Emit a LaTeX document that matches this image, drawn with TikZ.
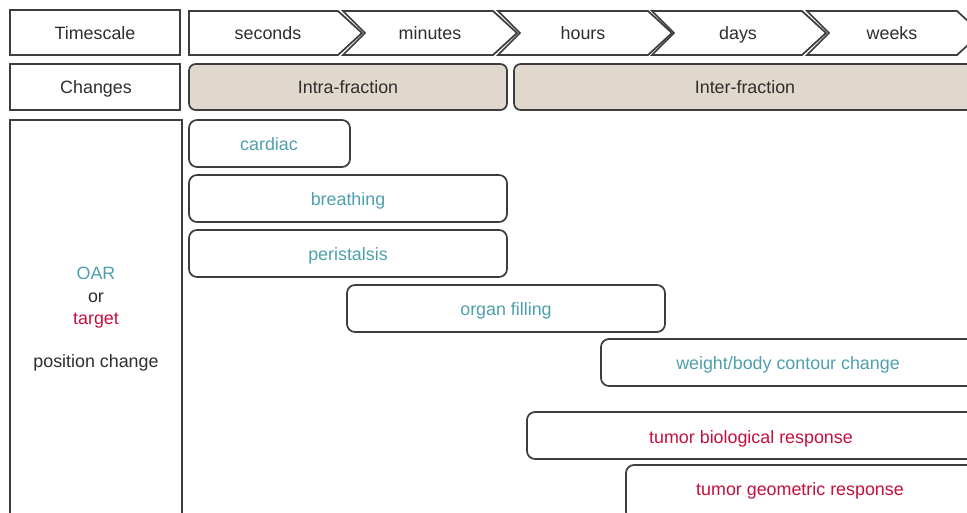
\documentclass[tikz,border=0pt]{standalone}
\usepackage{fontspec}
\setmainfont{Liberation Sans}
\usetikzlibrary{fit}
\definecolor{edge}{HTML}{3D3D3D}
\definecolor{beige}{HTML}{E0D7CD}
\definecolor{oar}{HTML}{4FA0AE}
\definecolor{tgt}{HTML}{C4103F}
\definecolor{ink}{HTML}{2E2E2E}
\tikzset{
  lbl/.style={font=\fontsize{13.4}{16}\selectfont, text=ink, inner sep=0pt,
              text height=9.6pt, text depth=0pt},
  sq/.style={draw=edge, line width=1.3pt, fill=white, inner sep=0pt},
  phase/.style={draw=edge, line width=1.3pt, fill=beige, rounded corners=5pt, inner sep=0pt},
  bar/.style={draw=edge, line width=1.3pt, fill=white, rounded corners=6pt, inner sep=0pt},
  chev/.style={draw=edge, line width=1.3pt, fill=white, line join=miter},
}
\begin{document}
\begin{tikzpicture}[x=0.75pt, y=-0.75pt]
  \useasboundingbox (0,0) rectangle (967,512);
  \clip (0,0) rectangle (967,512);

  % row headers
  \node[sq, fit={(10,10)(180,55)}] (timescale) {};
  \node[lbl] (timescaleT) at (95,33) {Timescale};
  \node[sq, fit={(10,64)(180,110)}] (changes) {};
  \node[lbl] (changesT) at (96,87) {Changes};
  \node[sq, fit={(10,120)(182,530)}] (category) {};
  \node[lbl, text=oar] (oarT) at (96,273) {OAR};
  \node[lbl] (orT) at (96,296) {or};
  \node[lbl, text=tgt] (targetT) at (96,318) {target};
  \node[lbl] (positionT) at (96,361) {position change};

  % timescale chevrons
  \draw[chev] (189,11) -- (338,11) -- (362,33) -- (338,55) -- (189,55) -- cycle;
  \foreach \s in {343,498,652,807}{
    \draw[chev] (\s,11) -- (\s+150,11) -- (\s+174,33) -- (\s+150,55) -- (\s,55) -- (\s+22,33) -- cycle;
  }
  \node[lbl] (seconds) at (268,33) {seconds};
  \node[lbl] (minutes) at (430,33) {minutes};
  \node[lbl] (hours) at (583,33) {hours};
  \node[lbl] (days) at (738,33) {days};
  \node[lbl] (weeks) at (892,33) {weeks};

  % fraction phases
  \node[phase, fit={(189,64)(507,110)}] (intra) {};
  \node[lbl] (intraT) at (348,87) {Intra-fraction};
  \node[phase, fit={(514,64)(976,110)}] (inter) {};
  \node[lbl] (interT) at (745,87) {Inter-fraction};

  % position-change bars
  \node[bar, fit={(189,120)(350,167)}] (cardiac) {};
  \node[lbl, text=oar] (cardiacT) at (269,144) {cardiac};
  \node[bar, fit={(189,175)(507,222)}] (breathing) {};
  \node[lbl, text=oar] (breathingT) at (348,199) {breathing};
  \node[bar, fit={(189,230)(507,277)}] (peristalsis) {};
  \node[lbl, text=oar] (peristalsisT) at (348,254) {peristalsis};
  \node[bar, fit={(347,285)(665,332)}] (filling) {};
  \node[lbl, text=oar] (fillingT) at (506,309) {organ filling};
  \node[bar, fit={(601,339)(976,386)}] (weight) {};
  \node[lbl, text=oar] (weightT) at (788,363) {weight/body contour change};
  \node[bar, fit={(527,412)(976,459)}] (biological) {};
  \node[lbl, text=tgt] (biologicalT) at (751,437) {tumor biological response};
  \node[bar, fit={(626,465)(976,520)}] (geometric) {};
  \node[lbl, text=tgt] (geometricT) at (800,489) {tumor geometric response};
\end{tikzpicture}
\end{document}
